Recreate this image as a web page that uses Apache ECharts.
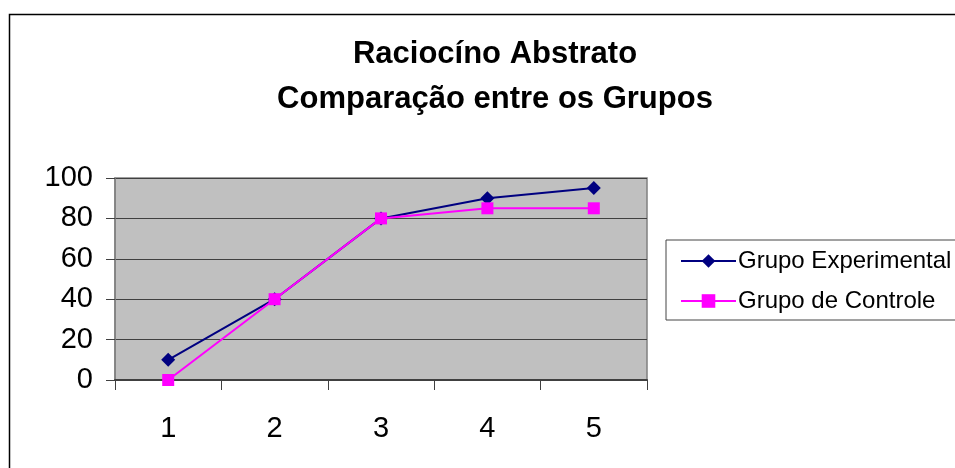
<!DOCTYPE html>
<html><head><meta charset="utf-8">
<script src="https://cdn.jsdelivr.net/npm/echarts@6/dist/echarts.min.js"></script>
<style>html,body{margin:0;padding:0;background:#fff}#c{width:955px;height:468px}</style>
</head><body><div id="c"></div>
<script>
const categories = ['1','2','3','4','5'];
const grupoExperimental = [10, 40, 80, 90, 95];
const grupoControle = [0, 40, 80, 85, 85];
const seriesNames = ['Grupo Experimental', 'Grupo de Controle'];
const titleText = 'Raciocíno Abstrato\nComparação entre os Grupos';

const chart = echarts.init(document.getElementById('c'));
const font = 'Liberation Sans, Arial, sans-serif';
chart.setOption({
  backgroundColor: '#fff',
  animation: false,
  title: {
    text: titleText, left: 490, textAlign: 'center', top: 27,
    textStyle: {fontFamily: font, fontSize: 31, fontWeight: 'bold', color: '#000', lineHeight: 45}
  },
  graphic: [
    {type: 'rect', shape: {x: 9.5, y: 14.5, width: 1000, height: 500}, style: {fill: 'none', stroke: '#000', lineWidth: 1.5}, silent: true, z: -1},
    {type: 'rect', shape: {x: 666, y: 240, width: 300, height: 80}, style: {fill: '#fff', stroke: '#444', lineWidth: 1}, silent: true, z: 0}
  ],
  legend: {
    orient: 'vertical', left: 675, top: 244, itemGap: 16,
    itemWidth: 55, itemHeight: 17,
    textStyle: {fontFamily: font, fontSize: 24, color: '#000', padding: [0,0,0,-3]},
    data: seriesNames, z: 5
  },
  grid: {left: 115, right: 308, top: 178, bottom: 88, show: true, backgroundColor: '#c0c0c0', borderColor: '#808080', borderWidth: 1.5},
  xAxis: {
    type: 'category', data: categories, boundaryGap: true,
    axisLine: {lineStyle: {color: '#404040', width: 2}},
    axisTick: {show: true, length: 10, lineStyle: {color: '#404040', width: 1}},
    axisLabel: {fontFamily: font, fontSize: 29, color: '#000', margin: 34}
  },
  yAxis: {
    type: 'value', min: 0, max: 100, interval: 20,
    axisLine: {show: true, lineStyle: {color: '#808080', width: 1.5}},
    axisTick: {show: true, length: 9, lineStyle: {color: '#404040'}},
    axisLabel: {fontFamily: font, fontSize: 29, color: '#000', margin: 22},
    splitLine: {lineStyle: {color: '#404040', width: 1}}
  },
  series: [
    {name: seriesNames[0], type: 'line', data: grupoExperimental, symbol: 'diamond', symbolSize: 14,
     itemStyle: {color: '#000080'}, lineStyle: {color: '#000080', width: 2}, z: 3},
    {name: seriesNames[1], type: 'line', data: grupoControle, symbol: 'rect', symbolSize: 12,
     itemStyle: {color: '#ff00ff'}, lineStyle: {color: '#ff00ff', width: 2}, z: 4}
  ]
});
</script></body></html>
